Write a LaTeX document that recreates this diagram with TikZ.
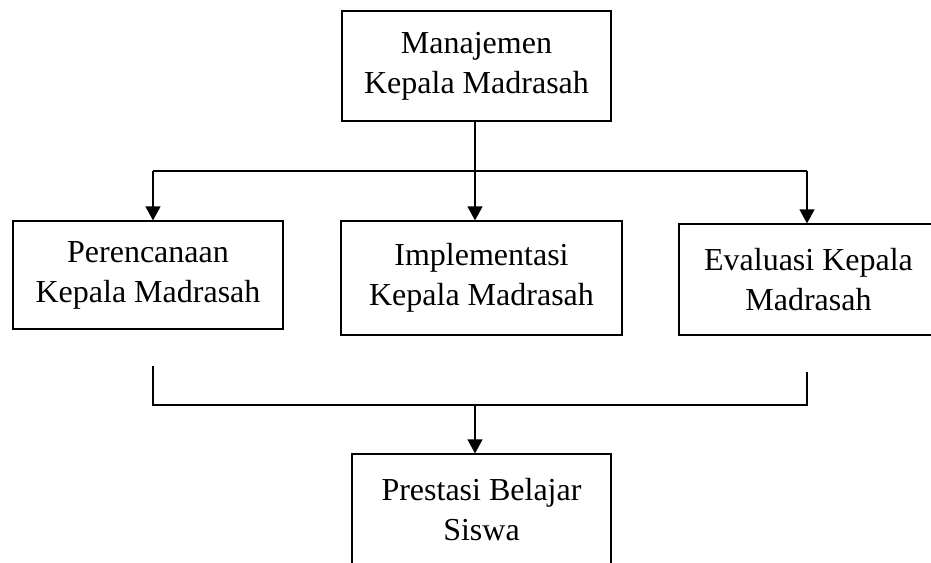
\documentclass[tikz,border=0pt]{standalone}
\usepackage{fontspec}
\setmainfont{Liberation Serif}
\usetikzlibrary{arrows.meta}

\begin{document}
\begin{tikzpicture}[x=0.5pt,y=-0.5pt,line width=0.6pt,
        kotak/.style={draw,align=center,inner sep=0pt,font=\fontsize{16}{20}\selectfont},
        panah/.style={-{Triangle[length=7pt,width=7.5pt]}}]
            \useasboundingbox (0,0) rectangle (931,562);

            \node[kotak,minimum width=134.5pt,minimum height=55pt] (kepsek) at (476.5,66) {Manajemen\\Kepala Madrasah};
            \node[kotak,minimum width=135pt,minimum height=54pt] (rencana) at (148,275) {Perencanaan\\Kepala Madrasah};
            \node[kotak,minimum width=140.5pt,minimum height=57pt] (implementasi) at (481.5,278) {Implementasi\\Kepala Madrasah};
            \node[kotak,minimum width=129.5pt,minimum height=55.5pt] (evaluasi) at (808.5,279.5) {Evaluasi Kepala\\Madrasah};
            \node[kotak,minimum width=129.5pt,minimum height=56pt] (prestasi) at (481.5,510) {Prestasi Belajar\\Siswa};

            \coordinate (a1) at (153,171);
            \coordinate (a2) at (475,171);
            \coordinate (a3) at (807,171);
            \coordinate (b1) at (153,366);
            \coordinate (b2) at (807,372);
            \coordinate (b3) at (475,405);

            \draw (kepsek.south -| a2) -- (a2);
            \draw (a1) -- (a3);
            \draw[panah] (a1) -- (a1 |- rencana.north);
            \draw[panah] (a2) -- (a2 |- implementasi.north);
            \draw[panah] (a3) -- (a3 |- evaluasi.north);
            \draw (b1) -- (b1 |- b3) -- (b2 |- b3) -- (b2);
            \draw[panah] (b3) -- (b3 |- prestasi.north);
        \end{tikzpicture}
\end{document}
